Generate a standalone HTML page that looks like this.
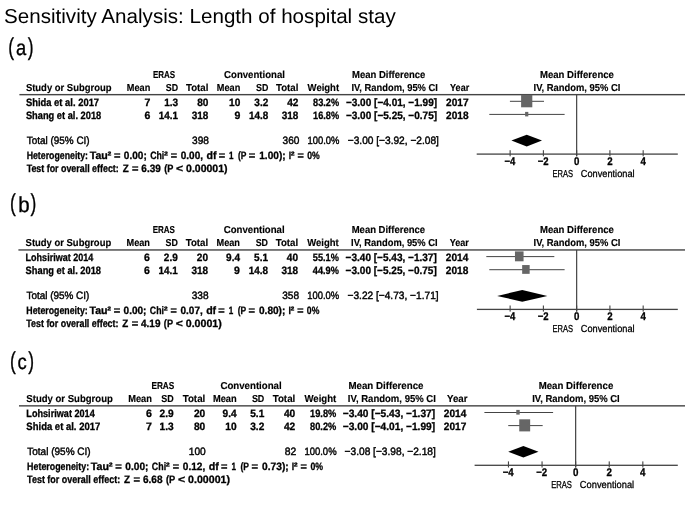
<!DOCTYPE html>
<html lang="en"><head><meta charset="utf-8"><title>Sensitivity Analysis: Length of hospital stay</title>
<style>
html,body{margin:0;padding:0;background:#fff;}
body{width:685px;height:513px;overflow:hidden;}
svg{display:block;font-family:"Liberation Sans", sans-serif;filter:blur(0.35px);}
text{white-space:pre;}
</style></head><body>
<svg width="685" height="513" viewBox="0 0 685 513" text-rendering="geometricPrecision">
<rect width="685" height="513" fill="#fff"/>
<text x="4.00" y="22.50" font-size="20.2" textLength="391.70" lengthAdjust="spacingAndGlyphs" fill="#000">Sensitivity Analysis: Length of hospital stay</text>
<text y="54.90" stroke="#000" stroke-width="0.35"><tspan x="8.30" font-size="24.4" textLength="5.8" lengthAdjust="spacingAndGlyphs">(</tspan><tspan x="16.10" y="54.90" font-size="21.6" textLength="10.20" lengthAdjust="spacingAndGlyphs">a</tspan><tspan x="27.65" y="54.90" font-size="24.4" textLength="5.8" lengthAdjust="spacingAndGlyphs">)</tspan></text>
<g transform="translate(0,0) scale(1.0,1)">
<text x="153.00" y="77.50" font-size="10.1" font-weight="bold" stroke="#000" stroke-width="0.15" textLength="22.20" lengthAdjust="spacingAndGlyphs" fill="#000">ERAS</text>
<text x="224.10" y="77.50" font-size="10.1" font-weight="bold" stroke="#000" stroke-width="0.15" textLength="60.80" lengthAdjust="spacingAndGlyphs" fill="#000">Conventional</text>
<text x="352.00" y="77.50" font-size="10.1" font-weight="bold" stroke="#000" stroke-width="0.15" textLength="73.40" lengthAdjust="spacingAndGlyphs" fill="#000">Mean Difference</text>
<text x="25.90" y="91.00" font-size="10.1" font-weight="bold" stroke="#000" stroke-width="0.15" textLength="85.60" lengthAdjust="spacingAndGlyphs" fill="#000">Study or Subgroup</text>
<text x="126.80" y="91.00" font-size="10.1" font-weight="bold" stroke="#000" stroke-width="0.15" textLength="23.50" lengthAdjust="spacingAndGlyphs" fill="#000">Mean</text>
<text x="165.80" y="91.00" font-size="10.1" font-weight="bold" stroke="#000" stroke-width="0.15" textLength="12.30" lengthAdjust="spacingAndGlyphs" fill="#000">SD</text>
<text x="186.00" y="91.00" font-size="10.1" font-weight="bold" stroke="#000" stroke-width="0.15" textLength="22.40" lengthAdjust="spacingAndGlyphs" fill="#000">Total</text>
<text x="216.80" y="91.00" font-size="10.1" font-weight="bold" stroke="#000" stroke-width="0.15" textLength="23.50" lengthAdjust="spacingAndGlyphs" fill="#000">Mean</text>
<text x="256.00" y="91.00" font-size="10.1" font-weight="bold" stroke="#000" stroke-width="0.15" textLength="12.30" lengthAdjust="spacingAndGlyphs" fill="#000">SD</text>
<text x="276.00" y="91.00" font-size="10.1" font-weight="bold" stroke="#000" stroke-width="0.15" textLength="22.40" lengthAdjust="spacingAndGlyphs" fill="#000">Total</text>
<text x="307.60" y="91.00" font-size="10.1" font-weight="bold" stroke="#000" stroke-width="0.15" textLength="31.50" lengthAdjust="spacingAndGlyphs" fill="#000">Weight</text>
<text x="351.40" y="91.00" font-size="10.1" font-weight="bold" stroke="#000" stroke-width="0.15" textLength="86.50" lengthAdjust="spacingAndGlyphs" fill="#000">IV, Random, 95% CI</text>
<text x="450.10" y="91.00" font-size="10.1" font-weight="bold" stroke="#000" stroke-width="0.15" textLength="19.10" lengthAdjust="spacingAndGlyphs" fill="#000">Year</text>
<rect x="19.4" y="93.95" width="670.6" height="1.4" fill="#444"/>
<text x="25.90" y="105.60" font-size="10.7" font-weight="bold" stroke="#000" stroke-width="0.3" textLength="73.20" lengthAdjust="spacingAndGlyphs" fill="#000">Shida et al. 2017</text>
<text x="144.43" y="105.60" font-size="10.7" font-weight="bold" stroke="#000" stroke-width="0.3" textLength="5.87" lengthAdjust="spacingAndGlyphs" fill="#000">7</text>
<text x="164.16" y="105.60" font-size="10.7" font-weight="bold" stroke="#000" stroke-width="0.3" textLength="13.94" lengthAdjust="spacingAndGlyphs" fill="#000">1.3</text>
<text x="197.16" y="105.60" font-size="10.7" font-weight="bold" stroke="#000" stroke-width="0.3" textLength="11.24" lengthAdjust="spacingAndGlyphs" fill="#000">80</text>
<text x="229.06" y="105.60" font-size="10.7" font-weight="bold" stroke="#000" stroke-width="0.3" textLength="11.24" lengthAdjust="spacingAndGlyphs" fill="#000">10</text>
<text x="254.36" y="105.60" font-size="10.7" font-weight="bold" stroke="#000" stroke-width="0.3" textLength="13.94" lengthAdjust="spacingAndGlyphs" fill="#000">3.2</text>
<text x="287.16" y="105.60" font-size="10.7" font-weight="bold" stroke="#000" stroke-width="0.3" textLength="11.24" lengthAdjust="spacingAndGlyphs" fill="#000">42</text>
<text x="313.09" y="105.60" font-size="10.7" font-weight="bold" stroke="#000" stroke-width="0.3" textLength="26.01" lengthAdjust="spacingAndGlyphs" fill="#000">83.2%</text>
<text x="345.90" y="105.60" font-size="10.7" font-weight="bold" stroke="#000" stroke-width="0.3" textLength="91.20" lengthAdjust="spacingAndGlyphs" fill="#000">−3.00 [−4.01, −1.99]</text>
<text x="446.10" y="105.60" font-size="10.7" font-weight="bold" stroke="#000" stroke-width="0.3" textLength="22.50" lengthAdjust="spacingAndGlyphs" fill="#000">2017</text>
<text x="25.90" y="118.60" font-size="10.7" font-weight="bold" stroke="#000" stroke-width="0.3" textLength="75.40" lengthAdjust="spacingAndGlyphs" fill="#000">Shang et al. 2018</text>
<text x="144.43" y="118.60" font-size="10.7" font-weight="bold" stroke="#000" stroke-width="0.3" textLength="5.87" lengthAdjust="spacingAndGlyphs" fill="#000">6</text>
<text x="158.79" y="118.60" font-size="10.7" font-weight="bold" stroke="#000" stroke-width="0.3" textLength="19.31" lengthAdjust="spacingAndGlyphs" fill="#000">14.1</text>
<text x="191.79" y="118.60" font-size="10.7" font-weight="bold" stroke="#000" stroke-width="0.3" textLength="16.61" lengthAdjust="spacingAndGlyphs" fill="#000">318</text>
<text x="234.43" y="118.60" font-size="10.7" font-weight="bold" stroke="#000" stroke-width="0.3" textLength="5.87" lengthAdjust="spacingAndGlyphs" fill="#000">9</text>
<text x="248.99" y="118.60" font-size="10.7" font-weight="bold" stroke="#000" stroke-width="0.3" textLength="19.31" lengthAdjust="spacingAndGlyphs" fill="#000">14.8</text>
<text x="281.79" y="118.60" font-size="10.7" font-weight="bold" stroke="#000" stroke-width="0.3" textLength="16.61" lengthAdjust="spacingAndGlyphs" fill="#000">318</text>
<text x="313.09" y="118.60" font-size="10.7" font-weight="bold" stroke="#000" stroke-width="0.3" textLength="26.01" lengthAdjust="spacingAndGlyphs" fill="#000">16.8%</text>
<text x="345.90" y="118.60" font-size="10.7" font-weight="bold" stroke="#000" stroke-width="0.3" textLength="91.20" lengthAdjust="spacingAndGlyphs" fill="#000">−3.00 [−5.25, −0.75]</text>
<text x="446.10" y="118.60" font-size="10.7" font-weight="bold" stroke="#000" stroke-width="0.3" textLength="22.50" lengthAdjust="spacingAndGlyphs" fill="#000">2018</text>
<text x="26.80" y="143.80" font-size="10.7" stroke="#000" stroke-width="0.42" textLength="62.80" lengthAdjust="spacingAndGlyphs" fill="#000">Total (95% CI)</text>
<text x="192.05" y="143.80" font-size="10.7" stroke="#000" stroke-width="0.42" textLength="16.85" lengthAdjust="spacingAndGlyphs" fill="#000">398</text>
<text x="282.55" y="143.80" font-size="10.7" stroke="#000" stroke-width="0.42" textLength="16.85" lengthAdjust="spacingAndGlyphs" fill="#000">360</text>
<text x="307.50" y="143.80" font-size="10.7" stroke="#000" stroke-width="0.42" textLength="31.90" lengthAdjust="spacingAndGlyphs" fill="#000">100.0%</text>
<text x="347.80" y="143.80" font-size="10.7" stroke="#000" stroke-width="0.42" textLength="91.10" lengthAdjust="spacingAndGlyphs" fill="#000">−3.00 [−3.92, −2.08]</text>
<text y="158.60" font-size="10.7" font-weight="bold" stroke="#000" stroke-width="0.3"><tspan x="26.65" textLength="61.40" lengthAdjust="spacingAndGlyphs">Heterogeneity:</tspan> <tspan x="89.75" textLength="18.10" lengthAdjust="spacingAndGlyphs">Tau</tspan><tspan x="107.55" textLength="3.80" lengthAdjust="spacingAndGlyphs">²</tspan> <tspan x="113.95" textLength="6.50" lengthAdjust="spacingAndGlyphs">=</tspan> <tspan x="123.85" textLength="22.90" lengthAdjust="spacingAndGlyphs">0.00;</tspan> <tspan x="150.15" textLength="14.10" lengthAdjust="spacingAndGlyphs">Chi</tspan><tspan x="163.95" textLength="3.90" lengthAdjust="spacingAndGlyphs">²</tspan> <tspan x="170.85" textLength="6.30" lengthAdjust="spacingAndGlyphs">=</tspan> <tspan x="180.75" textLength="22.30" lengthAdjust="spacingAndGlyphs">0.00,</tspan> <tspan x="206.45" textLength="10.00" lengthAdjust="spacingAndGlyphs">df</tspan> <tspan x="218.65" textLength="6.40" lengthAdjust="spacingAndGlyphs">=</tspan> <tspan x="229.05" textLength="4.50" lengthAdjust="spacingAndGlyphs">1</tspan> <tspan x="237.95" textLength="8.30" lengthAdjust="spacingAndGlyphs">(P</tspan> <tspan x="248.75" textLength="6.50" lengthAdjust="spacingAndGlyphs">=</tspan> <tspan x="259.25" textLength="26.40" lengthAdjust="spacingAndGlyphs">1.00);</tspan> <tspan x="288.75" textLength="2.40" lengthAdjust="spacingAndGlyphs">I</tspan><tspan x="290.75" textLength="3.80" lengthAdjust="spacingAndGlyphs">²</tspan> <tspan x="297.45" textLength="6.30" lengthAdjust="spacingAndGlyphs">=</tspan> <tspan x="307.15" textLength="12.50" lengthAdjust="spacingAndGlyphs">0%</tspan></text>
<text y="172.00" font-size="10.7" font-weight="bold" stroke="#000" stroke-width="0.3"><tspan x="26.65" textLength="92.10" lengthAdjust="spacingAndGlyphs">Test for overall effect:</tspan> <tspan x="122.65" textLength="6.00" lengthAdjust="spacingAndGlyphs">Z</tspan> <tspan x="132.05" textLength="6.50" lengthAdjust="spacingAndGlyphs">=</tspan> <tspan x="141.35" textLength="19.40" lengthAdjust="spacingAndGlyphs">6.39</tspan> <tspan x="164.15" textLength="9.00" lengthAdjust="spacingAndGlyphs">(P</tspan> <tspan x="176.05" textLength="7.10" lengthAdjust="spacingAndGlyphs">&lt;</tspan> <tspan x="186.05" textLength="41.50" lengthAdjust="spacingAndGlyphs">0.00001)</tspan></text>
</g>
<g transform="translate(0,0) scale(1.0,1)">
<text x="540.00" y="77.50" font-size="10.1" font-weight="bold" stroke="#000" stroke-width="0.15" textLength="73.90" lengthAdjust="spacingAndGlyphs" fill="#000">Mean Difference</text>
<text x="533.60" y="91.00" font-size="10.1" font-weight="bold" stroke="#000" stroke-width="0.15" textLength="86.70" lengthAdjust="spacingAndGlyphs" fill="#000">IV, Random, 95% CI</text>
<rect x="576.05" y="94.6" width="1.2" height="61.7" fill="#444"/>
<rect x="476.7" y="153.45" width="201.10" height="1.3" fill="#444"/>
<rect x="509.58" y="150.2" width="1.1" height="6.1" fill="#444"/>
<text x="504.38" y="165.10" font-size="11.2" font-weight="bold" stroke="#000" stroke-width="0.3" textLength="10.90" lengthAdjust="spacingAndGlyphs" fill="#000">−4</text>
<rect x="542.84" y="150.2" width="1.1" height="6.1" fill="#444"/>
<text x="537.64" y="165.10" font-size="11.2" font-weight="bold" stroke="#000" stroke-width="0.3" textLength="10.90" lengthAdjust="spacingAndGlyphs" fill="#000">−2</text>
<rect x="576.10" y="150.2" width="1.1" height="6.1" fill="#444"/>
<text x="573.95" y="165.10" font-size="11.2" font-weight="bold" stroke="#000" stroke-width="0.3" textLength="5.40" lengthAdjust="spacingAndGlyphs" fill="#000">0</text>
<rect x="609.36" y="150.2" width="1.1" height="6.1" fill="#444"/>
<text x="607.21" y="165.10" font-size="11.2" font-weight="bold" stroke="#000" stroke-width="0.3" textLength="5.40" lengthAdjust="spacingAndGlyphs" fill="#000">2</text>
<rect x="642.62" y="150.2" width="1.1" height="6.1" fill="#444"/>
<text x="640.47" y="165.10" font-size="11.2" font-weight="bold" stroke="#000" stroke-width="0.3" textLength="5.40" lengthAdjust="spacingAndGlyphs" fill="#000">4</text>
<text x="552.40" y="176.60" font-size="10.1" stroke="#000" stroke-width="0.28" textLength="20.60" lengthAdjust="spacingAndGlyphs" fill="#000">ERAS</text>
<text x="580.80" y="176.60" font-size="10.1" stroke="#000" stroke-width="0.28" textLength="53.80" lengthAdjust="spacingAndGlyphs" fill="#000">Conventional</text>
<rect x="509.91" y="100.80" width="34.09" height="1" fill="#444"/>
<rect x="521.11" y="94.80" width="11.2" height="12.5" fill="#666"/>
<rect x="489.29" y="113.90" width="75.33" height="1" fill="#444"/>
<rect x="525.11" y="111.90" width="3.2" height="4.5" fill="#666"/>
<polygon points="511.41,140.6 526.71,134.79999999999998 542.01,140.6 526.71,146.4" fill="#000"/>
</g>
<text y="211.40" stroke="#000" stroke-width="0.35"><tspan x="10.00" font-size="24.4" textLength="5.8" lengthAdjust="spacingAndGlyphs">(</tspan><tspan x="18.30" y="212.10" font-size="21.6" textLength="11.40" lengthAdjust="spacingAndGlyphs">b</tspan><tspan x="30.45" y="211.40" font-size="24.4" textLength="5.8" lengthAdjust="spacingAndGlyphs">)</tspan></text>
<g transform="translate(-0.3,155.3) scale(1.0,1)">
<text x="153.00" y="77.50" font-size="10.1" font-weight="bold" stroke="#000" stroke-width="0.15" textLength="22.20" lengthAdjust="spacingAndGlyphs" fill="#000">ERAS</text>
<text x="224.10" y="77.50" font-size="10.1" font-weight="bold" stroke="#000" stroke-width="0.15" textLength="60.80" lengthAdjust="spacingAndGlyphs" fill="#000">Conventional</text>
<text x="352.00" y="77.50" font-size="10.1" font-weight="bold" stroke="#000" stroke-width="0.15" textLength="73.40" lengthAdjust="spacingAndGlyphs" fill="#000">Mean Difference</text>
<text x="25.90" y="91.00" font-size="10.1" font-weight="bold" stroke="#000" stroke-width="0.15" textLength="85.60" lengthAdjust="spacingAndGlyphs" fill="#000">Study or Subgroup</text>
<text x="126.80" y="91.00" font-size="10.1" font-weight="bold" stroke="#000" stroke-width="0.15" textLength="23.50" lengthAdjust="spacingAndGlyphs" fill="#000">Mean</text>
<text x="165.80" y="91.00" font-size="10.1" font-weight="bold" stroke="#000" stroke-width="0.15" textLength="12.30" lengthAdjust="spacingAndGlyphs" fill="#000">SD</text>
<text x="186.00" y="91.00" font-size="10.1" font-weight="bold" stroke="#000" stroke-width="0.15" textLength="22.40" lengthAdjust="spacingAndGlyphs" fill="#000">Total</text>
<text x="216.80" y="91.00" font-size="10.1" font-weight="bold" stroke="#000" stroke-width="0.15" textLength="23.50" lengthAdjust="spacingAndGlyphs" fill="#000">Mean</text>
<text x="256.00" y="91.00" font-size="10.1" font-weight="bold" stroke="#000" stroke-width="0.15" textLength="12.30" lengthAdjust="spacingAndGlyphs" fill="#000">SD</text>
<text x="276.00" y="91.00" font-size="10.1" font-weight="bold" stroke="#000" stroke-width="0.15" textLength="22.40" lengthAdjust="spacingAndGlyphs" fill="#000">Total</text>
<text x="307.60" y="91.00" font-size="10.1" font-weight="bold" stroke="#000" stroke-width="0.15" textLength="31.50" lengthAdjust="spacingAndGlyphs" fill="#000">Weight</text>
<text x="351.40" y="91.00" font-size="10.1" font-weight="bold" stroke="#000" stroke-width="0.15" textLength="86.50" lengthAdjust="spacingAndGlyphs" fill="#000">IV, Random, 95% CI</text>
<text x="450.10" y="91.00" font-size="10.1" font-weight="bold" stroke="#000" stroke-width="0.15" textLength="19.10" lengthAdjust="spacingAndGlyphs" fill="#000">Year</text>
<rect x="18.7" y="93.95" width="671.3" height="1.4" fill="#444"/>
<text x="25.90" y="105.60" font-size="10.7" font-weight="bold" stroke="#000" stroke-width="0.3" textLength="67.70" lengthAdjust="spacingAndGlyphs" fill="#000">Lohsiriwat 2014</text>
<text x="144.43" y="105.60" font-size="10.7" font-weight="bold" stroke="#000" stroke-width="0.3" textLength="5.87" lengthAdjust="spacingAndGlyphs" fill="#000">6</text>
<text x="164.16" y="105.60" font-size="10.7" font-weight="bold" stroke="#000" stroke-width="0.3" textLength="13.94" lengthAdjust="spacingAndGlyphs" fill="#000">2.9</text>
<text x="197.16" y="105.60" font-size="10.7" font-weight="bold" stroke="#000" stroke-width="0.3" textLength="11.24" lengthAdjust="spacingAndGlyphs" fill="#000">20</text>
<text x="226.36" y="105.60" font-size="10.7" font-weight="bold" stroke="#000" stroke-width="0.3" textLength="13.94" lengthAdjust="spacingAndGlyphs" fill="#000">9.4</text>
<text x="254.36" y="105.60" font-size="10.7" font-weight="bold" stroke="#000" stroke-width="0.3" textLength="13.94" lengthAdjust="spacingAndGlyphs" fill="#000">5.1</text>
<text x="287.16" y="105.60" font-size="10.7" font-weight="bold" stroke="#000" stroke-width="0.3" textLength="11.24" lengthAdjust="spacingAndGlyphs" fill="#000">40</text>
<text x="313.09" y="105.60" font-size="10.7" font-weight="bold" stroke="#000" stroke-width="0.3" textLength="26.01" lengthAdjust="spacingAndGlyphs" fill="#000">55.1%</text>
<text x="345.90" y="105.60" font-size="10.7" font-weight="bold" stroke="#000" stroke-width="0.3" textLength="91.20" lengthAdjust="spacingAndGlyphs" fill="#000">−3.40 [−5.43, −1.37]</text>
<text x="446.10" y="105.60" font-size="10.7" font-weight="bold" stroke="#000" stroke-width="0.3" textLength="22.50" lengthAdjust="spacingAndGlyphs" fill="#000">2014</text>
<text x="25.90" y="118.60" font-size="10.7" font-weight="bold" stroke="#000" stroke-width="0.3" textLength="75.40" lengthAdjust="spacingAndGlyphs" fill="#000">Shang et al. 2018</text>
<text x="144.43" y="118.60" font-size="10.7" font-weight="bold" stroke="#000" stroke-width="0.3" textLength="5.87" lengthAdjust="spacingAndGlyphs" fill="#000">6</text>
<text x="158.79" y="118.60" font-size="10.7" font-weight="bold" stroke="#000" stroke-width="0.3" textLength="19.31" lengthAdjust="spacingAndGlyphs" fill="#000">14.1</text>
<text x="191.79" y="118.60" font-size="10.7" font-weight="bold" stroke="#000" stroke-width="0.3" textLength="16.61" lengthAdjust="spacingAndGlyphs" fill="#000">318</text>
<text x="234.43" y="118.60" font-size="10.7" font-weight="bold" stroke="#000" stroke-width="0.3" textLength="5.87" lengthAdjust="spacingAndGlyphs" fill="#000">9</text>
<text x="248.99" y="118.60" font-size="10.7" font-weight="bold" stroke="#000" stroke-width="0.3" textLength="19.31" lengthAdjust="spacingAndGlyphs" fill="#000">14.8</text>
<text x="281.79" y="118.60" font-size="10.7" font-weight="bold" stroke="#000" stroke-width="0.3" textLength="16.61" lengthAdjust="spacingAndGlyphs" fill="#000">318</text>
<text x="313.09" y="118.60" font-size="10.7" font-weight="bold" stroke="#000" stroke-width="0.3" textLength="26.01" lengthAdjust="spacingAndGlyphs" fill="#000">44.9%</text>
<text x="345.90" y="118.60" font-size="10.7" font-weight="bold" stroke="#000" stroke-width="0.3" textLength="91.20" lengthAdjust="spacingAndGlyphs" fill="#000">−3.00 [−5.25, −0.75]</text>
<text x="446.10" y="118.60" font-size="10.7" font-weight="bold" stroke="#000" stroke-width="0.3" textLength="22.50" lengthAdjust="spacingAndGlyphs" fill="#000">2018</text>
<text x="26.80" y="143.80" font-size="10.7" stroke="#000" stroke-width="0.42" textLength="62.80" lengthAdjust="spacingAndGlyphs" fill="#000">Total (95% CI)</text>
<text x="192.05" y="143.80" font-size="10.7" stroke="#000" stroke-width="0.42" textLength="16.85" lengthAdjust="spacingAndGlyphs" fill="#000">338</text>
<text x="282.55" y="143.80" font-size="10.7" stroke="#000" stroke-width="0.42" textLength="16.85" lengthAdjust="spacingAndGlyphs" fill="#000">358</text>
<text x="307.50" y="143.80" font-size="10.7" stroke="#000" stroke-width="0.42" textLength="31.90" lengthAdjust="spacingAndGlyphs" fill="#000">100.0%</text>
<text x="347.80" y="143.80" font-size="10.7" stroke="#000" stroke-width="0.42" textLength="91.10" lengthAdjust="spacingAndGlyphs" fill="#000">−3.22 [−4.73, −1.71]</text>
<text y="158.60" font-size="10.7" font-weight="bold" stroke="#000" stroke-width="0.3"><tspan x="26.65" textLength="61.40" lengthAdjust="spacingAndGlyphs">Heterogeneity:</tspan> <tspan x="89.75" textLength="18.10" lengthAdjust="spacingAndGlyphs">Tau</tspan><tspan x="107.55" textLength="3.80" lengthAdjust="spacingAndGlyphs">²</tspan> <tspan x="113.95" textLength="6.50" lengthAdjust="spacingAndGlyphs">=</tspan> <tspan x="123.85" textLength="22.90" lengthAdjust="spacingAndGlyphs">0.00;</tspan> <tspan x="150.15" textLength="14.10" lengthAdjust="spacingAndGlyphs">Chi</tspan><tspan x="163.95" textLength="3.90" lengthAdjust="spacingAndGlyphs">²</tspan> <tspan x="170.85" textLength="6.30" lengthAdjust="spacingAndGlyphs">=</tspan> <tspan x="180.75" textLength="22.30" lengthAdjust="spacingAndGlyphs">0.07,</tspan> <tspan x="206.45" textLength="10.00" lengthAdjust="spacingAndGlyphs">df</tspan> <tspan x="218.65" textLength="6.40" lengthAdjust="spacingAndGlyphs">=</tspan> <tspan x="229.05" textLength="4.50" lengthAdjust="spacingAndGlyphs">1</tspan> <tspan x="237.95" textLength="8.30" lengthAdjust="spacingAndGlyphs">(P</tspan> <tspan x="248.75" textLength="6.50" lengthAdjust="spacingAndGlyphs">=</tspan> <tspan x="259.25" textLength="26.40" lengthAdjust="spacingAndGlyphs">0.80);</tspan> <tspan x="288.75" textLength="2.40" lengthAdjust="spacingAndGlyphs">I</tspan><tspan x="290.75" textLength="3.80" lengthAdjust="spacingAndGlyphs">²</tspan> <tspan x="297.45" textLength="6.30" lengthAdjust="spacingAndGlyphs">=</tspan> <tspan x="307.15" textLength="12.50" lengthAdjust="spacingAndGlyphs">0%</tspan></text>
<text y="172.00" font-size="10.7" font-weight="bold" stroke="#000" stroke-width="0.3"><tspan x="26.65" textLength="92.10" lengthAdjust="spacingAndGlyphs">Test for overall effect:</tspan> <tspan x="122.65" textLength="6.00" lengthAdjust="spacingAndGlyphs">Z</tspan> <tspan x="132.05" textLength="6.50" lengthAdjust="spacingAndGlyphs">=</tspan> <tspan x="141.35" textLength="19.40" lengthAdjust="spacingAndGlyphs">4.19</tspan> <tspan x="164.15" textLength="9.00" lengthAdjust="spacingAndGlyphs">(P</tspan> <tspan x="176.05" textLength="7.10" lengthAdjust="spacingAndGlyphs">&lt;</tspan> <tspan x="186.05" textLength="36.00" lengthAdjust="spacingAndGlyphs">0.0001)</tspan></text>
</g>
<g transform="translate(0,155.3) scale(1.0,1)">
<text x="540.00" y="77.50" font-size="10.1" font-weight="bold" stroke="#000" stroke-width="0.15" textLength="73.90" lengthAdjust="spacingAndGlyphs" fill="#000">Mean Difference</text>
<text x="533.60" y="91.00" font-size="10.1" font-weight="bold" stroke="#000" stroke-width="0.15" textLength="86.70" lengthAdjust="spacingAndGlyphs" fill="#000">IV, Random, 95% CI</text>
<rect x="576.05" y="94.6" width="1.2" height="61.7" fill="#444"/>
<rect x="476.9" y="153.45" width="200.90" height="1.3" fill="#444"/>
<rect x="509.58" y="150.2" width="1.1" height="6.1" fill="#444"/>
<text x="504.38" y="165.10" font-size="11.2" font-weight="bold" stroke="#000" stroke-width="0.3" textLength="10.90" lengthAdjust="spacingAndGlyphs" fill="#000">−4</text>
<rect x="542.84" y="150.2" width="1.1" height="6.1" fill="#444"/>
<text x="537.64" y="165.10" font-size="11.2" font-weight="bold" stroke="#000" stroke-width="0.3" textLength="10.90" lengthAdjust="spacingAndGlyphs" fill="#000">−2</text>
<rect x="576.10" y="150.2" width="1.1" height="6.1" fill="#444"/>
<text x="573.95" y="165.10" font-size="11.2" font-weight="bold" stroke="#000" stroke-width="0.3" textLength="5.40" lengthAdjust="spacingAndGlyphs" fill="#000">0</text>
<rect x="609.36" y="150.2" width="1.1" height="6.1" fill="#444"/>
<text x="607.21" y="165.10" font-size="11.2" font-weight="bold" stroke="#000" stroke-width="0.3" textLength="5.40" lengthAdjust="spacingAndGlyphs" fill="#000">2</text>
<rect x="642.62" y="150.2" width="1.1" height="6.1" fill="#444"/>
<text x="640.47" y="165.10" font-size="11.2" font-weight="bold" stroke="#000" stroke-width="0.3" textLength="5.40" lengthAdjust="spacingAndGlyphs" fill="#000">4</text>
<text x="552.40" y="176.60" font-size="10.1" stroke="#000" stroke-width="0.28" textLength="20.60" lengthAdjust="spacingAndGlyphs" fill="#000">ERAS</text>
<text x="580.80" y="176.60" font-size="10.1" stroke="#000" stroke-width="0.28" textLength="53.80" lengthAdjust="spacingAndGlyphs" fill="#000">Conventional</text>
<rect x="486.30" y="100.80" width="68.02" height="1" fill="#444"/>
<rect x="514.96" y="96.10" width="8.6" height="9.9" fill="#666"/>
<rect x="489.29" y="113.90" width="75.33" height="1" fill="#444"/>
<rect x="522.16" y="109.75" width="7.5" height="8.8" fill="#666"/>
<polygon points="497.14,140.6 522.25,134.79999999999998 547.36,140.6 522.25,146.4" fill="#000"/>
</g>
<text y="368.60" stroke="#000" stroke-width="0.35"><tspan x="10.00" font-size="24.4" textLength="5.8" lengthAdjust="spacingAndGlyphs">(</tspan><tspan x="17.50" y="368.60" font-size="21.6" textLength="9.20" lengthAdjust="spacingAndGlyphs">c</tspan><tspan x="28.15" y="368.60" font-size="24.4" textLength="5.8" lengthAdjust="spacingAndGlyphs">)</tspan></text>
<g transform="translate(0.2,311.2) scale(1.01,1)">
<text x="149.70" y="77.50" font-size="10.1" font-weight="bold" stroke="#000" stroke-width="0.15" textLength="22.68" lengthAdjust="spacingAndGlyphs" fill="#000">ERAS</text>
<text x="218.02" y="77.50" font-size="10.1" font-weight="bold" stroke="#000" stroke-width="0.15" textLength="60.70" lengthAdjust="spacingAndGlyphs" fill="#000">Conventional</text>
<text x="344.75" y="77.50" font-size="10.1" font-weight="bold" stroke="#000" stroke-width="0.15" textLength="74.36" lengthAdjust="spacingAndGlyphs" fill="#000">Mean Difference</text>
<text x="25.90" y="91.00" font-size="10.1" font-weight="bold" stroke="#000" stroke-width="0.15" textLength="85.60" lengthAdjust="spacingAndGlyphs" fill="#000">Study or Subgroup</text>
<text x="126.70" y="91.00" font-size="10.1" font-weight="bold" stroke="#000" stroke-width="0.15" textLength="23.50" lengthAdjust="spacingAndGlyphs" fill="#000">Mean</text>
<text x="159.49" y="91.00" font-size="10.1" font-weight="bold" stroke="#000" stroke-width="0.15" textLength="12.30" lengthAdjust="spacingAndGlyphs" fill="#000">SD</text>
<text x="180.67" y="91.00" font-size="10.1" font-weight="bold" stroke="#000" stroke-width="0.15" textLength="22.40" lengthAdjust="spacingAndGlyphs" fill="#000">Total</text>
<text x="210.66" y="91.00" font-size="10.1" font-weight="bold" stroke="#000" stroke-width="0.15" textLength="23.50" lengthAdjust="spacingAndGlyphs" fill="#000">Mean</text>
<text x="249.19" y="91.00" font-size="10.1" font-weight="bold" stroke="#000" stroke-width="0.15" textLength="12.30" lengthAdjust="spacingAndGlyphs" fill="#000">SD</text>
<text x="269.78" y="91.00" font-size="10.1" font-weight="bold" stroke="#000" stroke-width="0.15" textLength="22.40" lengthAdjust="spacingAndGlyphs" fill="#000">Total</text>
<text x="301.28" y="91.00" font-size="10.1" font-weight="bold" stroke="#000" stroke-width="0.15" textLength="31.50" lengthAdjust="spacingAndGlyphs" fill="#000">Weight</text>
<text x="344.16" y="91.00" font-size="10.1" font-weight="bold" stroke="#000" stroke-width="0.15" textLength="87.23" lengthAdjust="spacingAndGlyphs" fill="#000">IV, Random, 95% CI</text>
<text x="442.37" y="91.00" font-size="10.1" font-weight="bold" stroke="#000" stroke-width="0.15" textLength="20.30" lengthAdjust="spacingAndGlyphs" fill="#000">Year</text>
<rect x="18.6" y="93.95" width="671.4" height="1.4" fill="#444"/>
<text x="25.90" y="105.60" font-size="10.7" font-weight="bold" stroke="#000" stroke-width="0.3" textLength="67.70" lengthAdjust="spacingAndGlyphs" fill="#000">Lohsiriwat 2014</text>
<text x="144.33" y="105.60" font-size="10.7" font-weight="bold" stroke="#000" stroke-width="0.3" textLength="5.87" lengthAdjust="spacingAndGlyphs" fill="#000">6</text>
<text x="157.85" y="105.60" font-size="10.7" font-weight="bold" stroke="#000" stroke-width="0.3" textLength="13.94" lengthAdjust="spacingAndGlyphs" fill="#000">2.9</text>
<text x="191.83" y="105.60" font-size="10.7" font-weight="bold" stroke="#000" stroke-width="0.3" textLength="11.24" lengthAdjust="spacingAndGlyphs" fill="#000">20</text>
<text x="220.22" y="105.60" font-size="10.7" font-weight="bold" stroke="#000" stroke-width="0.3" textLength="13.94" lengthAdjust="spacingAndGlyphs" fill="#000">9.4</text>
<text x="247.55" y="105.60" font-size="10.7" font-weight="bold" stroke="#000" stroke-width="0.3" textLength="13.94" lengthAdjust="spacingAndGlyphs" fill="#000">5.1</text>
<text x="280.94" y="105.60" font-size="10.7" font-weight="bold" stroke="#000" stroke-width="0.3" textLength="11.24" lengthAdjust="spacingAndGlyphs" fill="#000">40</text>
<text x="306.77" y="105.60" font-size="10.7" font-weight="bold" stroke="#000" stroke-width="0.3" textLength="26.01" lengthAdjust="spacingAndGlyphs" fill="#000">19.8%</text>
<text x="339.21" y="105.60" font-size="10.7" font-weight="bold" stroke="#000" stroke-width="0.3" textLength="91.39" lengthAdjust="spacingAndGlyphs" fill="#000">−3.40 [−5.43, −1.37]</text>
<text x="439.21" y="105.60" font-size="10.7" font-weight="bold" stroke="#000" stroke-width="0.3" textLength="22.28" lengthAdjust="spacingAndGlyphs" fill="#000">2014</text>
<text x="25.90" y="118.60" font-size="10.7" font-weight="bold" stroke="#000" stroke-width="0.3" textLength="73.20" lengthAdjust="spacingAndGlyphs" fill="#000">Shida et al. 2017</text>
<text x="144.33" y="118.60" font-size="10.7" font-weight="bold" stroke="#000" stroke-width="0.3" textLength="5.87" lengthAdjust="spacingAndGlyphs" fill="#000">7</text>
<text x="157.85" y="118.60" font-size="10.7" font-weight="bold" stroke="#000" stroke-width="0.3" textLength="13.94" lengthAdjust="spacingAndGlyphs" fill="#000">1.3</text>
<text x="191.83" y="118.60" font-size="10.7" font-weight="bold" stroke="#000" stroke-width="0.3" textLength="11.24" lengthAdjust="spacingAndGlyphs" fill="#000">80</text>
<text x="222.92" y="118.60" font-size="10.7" font-weight="bold" stroke="#000" stroke-width="0.3" textLength="11.24" lengthAdjust="spacingAndGlyphs" fill="#000">10</text>
<text x="247.55" y="118.60" font-size="10.7" font-weight="bold" stroke="#000" stroke-width="0.3" textLength="13.94" lengthAdjust="spacingAndGlyphs" fill="#000">3.2</text>
<text x="280.94" y="118.60" font-size="10.7" font-weight="bold" stroke="#000" stroke-width="0.3" textLength="11.24" lengthAdjust="spacingAndGlyphs" fill="#000">42</text>
<text x="306.77" y="118.60" font-size="10.7" font-weight="bold" stroke="#000" stroke-width="0.3" textLength="26.01" lengthAdjust="spacingAndGlyphs" fill="#000">80.2%</text>
<text x="339.21" y="118.60" font-size="10.7" font-weight="bold" stroke="#000" stroke-width="0.3" textLength="91.39" lengthAdjust="spacingAndGlyphs" fill="#000">−3.00 [−4.01, −1.99]</text>
<text x="439.21" y="118.60" font-size="10.7" font-weight="bold" stroke="#000" stroke-width="0.3" textLength="22.28" lengthAdjust="spacingAndGlyphs" fill="#000">2017</text>
<text x="26.80" y="143.80" font-size="10.7" stroke="#000" stroke-width="0.42" textLength="62.80" lengthAdjust="spacingAndGlyphs" fill="#000">Total (95% CI)</text>
<text x="186.72" y="143.80" font-size="10.7" stroke="#000" stroke-width="0.42" textLength="16.85" lengthAdjust="spacingAndGlyphs" fill="#000">100</text>
<text x="281.78" y="143.80" font-size="10.7" stroke="#000" stroke-width="0.42" textLength="11.40" lengthAdjust="spacingAndGlyphs" fill="#000">82</text>
<text x="301.18" y="143.80" font-size="10.7" stroke="#000" stroke-width="0.42" textLength="31.90" lengthAdjust="spacingAndGlyphs" fill="#000">100.0%</text>
<text x="340.99" y="143.80" font-size="10.7" stroke="#000" stroke-width="0.42" textLength="90.30" lengthAdjust="spacingAndGlyphs" fill="#000">−3.08 [−3.98, −2.18]</text>
<text y="158.60" font-size="10.7" font-weight="bold" stroke="#000" stroke-width="0.3"><tspan x="26.65" textLength="61.40" lengthAdjust="spacingAndGlyphs">Heterogeneity:</tspan> <tspan x="89.75" textLength="18.10" lengthAdjust="spacingAndGlyphs">Tau</tspan><tspan x="107.55" textLength="3.80" lengthAdjust="spacingAndGlyphs">²</tspan> <tspan x="113.95" textLength="6.50" lengthAdjust="spacingAndGlyphs">=</tspan> <tspan x="123.85" textLength="22.90" lengthAdjust="spacingAndGlyphs">0.00;</tspan> <tspan x="150.15" textLength="14.10" lengthAdjust="spacingAndGlyphs">Chi</tspan><tspan x="163.95" textLength="3.90" lengthAdjust="spacingAndGlyphs">²</tspan> <tspan x="170.85" textLength="6.30" lengthAdjust="spacingAndGlyphs">=</tspan> <tspan x="180.75" textLength="22.30" lengthAdjust="spacingAndGlyphs">0.12,</tspan> <tspan x="206.45" textLength="10.00" lengthAdjust="spacingAndGlyphs">df</tspan> <tspan x="218.65" textLength="6.40" lengthAdjust="spacingAndGlyphs">=</tspan> <tspan x="229.05" textLength="4.50" lengthAdjust="spacingAndGlyphs">1</tspan> <tspan x="237.95" textLength="8.30" lengthAdjust="spacingAndGlyphs">(P</tspan> <tspan x="248.75" textLength="6.50" lengthAdjust="spacingAndGlyphs">=</tspan> <tspan x="259.25" textLength="26.40" lengthAdjust="spacingAndGlyphs">0.73);</tspan> <tspan x="288.75" textLength="2.40" lengthAdjust="spacingAndGlyphs">I</tspan><tspan x="290.75" textLength="3.80" lengthAdjust="spacingAndGlyphs">²</tspan> <tspan x="297.45" textLength="6.30" lengthAdjust="spacingAndGlyphs">=</tspan> <tspan x="307.15" textLength="12.50" lengthAdjust="spacingAndGlyphs">0%</tspan></text>
<text y="172.00" font-size="10.7" font-weight="bold" stroke="#000" stroke-width="0.3"><tspan x="26.65" textLength="92.10" lengthAdjust="spacingAndGlyphs">Test for overall effect:</tspan> <tspan x="122.65" textLength="6.00" lengthAdjust="spacingAndGlyphs">Z</tspan> <tspan x="132.05" textLength="6.50" lengthAdjust="spacingAndGlyphs">=</tspan> <tspan x="141.35" textLength="19.40" lengthAdjust="spacingAndGlyphs">6.68</tspan> <tspan x="164.15" textLength="9.00" lengthAdjust="spacingAndGlyphs">(P</tspan> <tspan x="176.05" textLength="7.10" lengthAdjust="spacingAndGlyphs">&lt;</tspan> <tspan x="186.05" textLength="41.50" lengthAdjust="spacingAndGlyphs">0.00001)</tspan></text>
</g>
<g transform="translate(-6.77,311.2) scale(1.01,1)">
<text x="540.00" y="77.50" font-size="10.1" font-weight="bold" stroke="#000" stroke-width="0.15" textLength="73.90" lengthAdjust="spacingAndGlyphs" fill="#000">Mean Difference</text>
<text x="533.60" y="91.00" font-size="10.1" font-weight="bold" stroke="#000" stroke-width="0.15" textLength="86.70" lengthAdjust="spacingAndGlyphs" fill="#000">IV, Random, 95% CI</text>
<rect x="576.05" y="94.6" width="1.2" height="61.7" fill="#444"/>
<rect x="476.6" y="153.45" width="201.20" height="1.3" fill="#444"/>
<rect x="509.58" y="150.2" width="1.1" height="6.1" fill="#444"/>
<text x="504.38" y="165.10" font-size="11.2" font-weight="bold" stroke="#000" stroke-width="0.3" textLength="10.90" lengthAdjust="spacingAndGlyphs" fill="#000">−4</text>
<rect x="542.84" y="150.2" width="1.1" height="6.1" fill="#444"/>
<text x="537.64" y="165.10" font-size="11.2" font-weight="bold" stroke="#000" stroke-width="0.3" textLength="10.90" lengthAdjust="spacingAndGlyphs" fill="#000">−2</text>
<rect x="576.10" y="150.2" width="1.1" height="6.1" fill="#444"/>
<text x="573.95" y="165.10" font-size="11.2" font-weight="bold" stroke="#000" stroke-width="0.3" textLength="5.40" lengthAdjust="spacingAndGlyphs" fill="#000">0</text>
<rect x="609.36" y="150.2" width="1.1" height="6.1" fill="#444"/>
<text x="607.21" y="165.10" font-size="11.2" font-weight="bold" stroke="#000" stroke-width="0.3" textLength="5.40" lengthAdjust="spacingAndGlyphs" fill="#000">2</text>
<rect x="642.62" y="150.2" width="1.1" height="6.1" fill="#444"/>
<text x="640.47" y="165.10" font-size="11.2" font-weight="bold" stroke="#000" stroke-width="0.3" textLength="5.40" lengthAdjust="spacingAndGlyphs" fill="#000">4</text>
<text x="552.40" y="176.60" font-size="10.1" stroke="#000" stroke-width="0.28" textLength="20.60" lengthAdjust="spacingAndGlyphs" fill="#000">ERAS</text>
<text x="580.80" y="176.60" font-size="10.1" stroke="#000" stroke-width="0.28" textLength="53.80" lengthAdjust="spacingAndGlyphs" fill="#000">Conventional</text>
<rect x="486.30" y="100.80" width="68.02" height="1" fill="#444"/>
<rect x="517.86" y="98.70" width="3.4" height="4.7" fill="#666"/>
<rect x="509.91" y="113.90" width="34.09" height="1" fill="#444"/>
<rect x="520.81" y="108.10" width="10.8" height="12.100000000000001" fill="#666"/>
<polygon points="509.91,140.6 524.88,134.79999999999998 539.85,140.6 524.88,146.4" fill="#000"/>
</g>
</svg>
</body></html>
